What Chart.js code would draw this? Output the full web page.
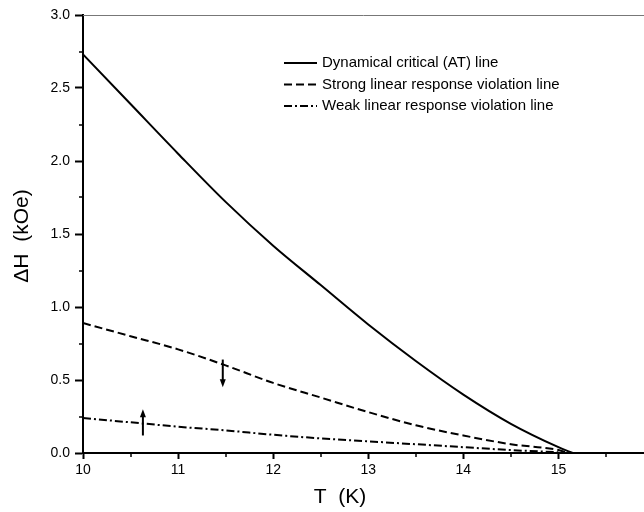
<!DOCTYPE html>
<html>
<head>
<meta charset="utf-8">
<script src="https://cdn.jsdelivr.net/npm/chart.js@4.4.0/dist/chart.umd.min.js"></script>
<style>
    html, body { margin: 0; padding: 0; background: #fff; }
    #wrap { width: 644px; height: 512px; }
</style>
</head>
<body>
<div id="wrap"><canvas id="chart" width="644" height="512"></canvas></div>
<script>
// ==================== DATA ====================
const seriesNames = [
    'Dynamical critical (AT) line',
    'Strong linear response violation line',
    'Weak linear response violation line'
];

// temperature (K) and field width (kOe)
const atT = [10.0, 10.5, 11.0, 11.5, 12.0, 12.5, 13.0, 13.5, 14.0, 14.5, 15.0, 15.15];
const atH = [2.73, 2.39, 2.05, 1.72, 1.42, 1.15, 0.88, 0.63, 0.40, 0.20, 0.04, 0.0];

const strongT = [10.0, 10.5, 11.0, 11.5, 12.0, 12.5, 13.0, 13.5, 14.0, 14.5, 15.0, 15.1];
const strongH = [0.89, 0.80, 0.71, 0.60, 0.48, 0.38, 0.28, 0.19, 0.12, 0.06, 0.02, 0.0];

const weakT = [10.0, 10.5, 11.0, 11.5, 12.0, 12.5, 13.0, 13.5, 14.0, 14.5, 15.0];
const weakH = [0.24, 0.21, 0.18, 0.155, 0.125, 0.10, 0.08, 0.06, 0.04, 0.02, 0.005];

// arrows marking the two violation lines
const arrowT = [11.47, 10.63];
const arrowFrom = [0.64, 0.12];
const arrowTo = [0.45, 0.30];

const xMin = 10, xMax = 15.9;
const yMin = 0, yMax = 3;
const xMinorTicks = [10.5, 11.5, 12.5, 13.5, 14.5, 15.5];
const yMinorTicks = [0.25, 0.75, 1.25, 1.75, 2.25, 2.75];

const xTitle = 'T  (K)';
const yTitle = '\u0394H  (kOe)';

// ==================== HELPERS ====================
const toPoints = (xs, ys) => xs.map((x, i) => ({ x: x, y: ys[i] }));

const lineStyles = [[], [8, 4], [8, 3, 2, 3]];

const FONT = '"Liberation Sans", Arial, sans-serif';
Chart.defaults.font.family = FONT;
Chart.defaults.color = '#000';

// ==================== EXTRAS PLUGIN ====================
const extrasPlugin = {
    id: 'extras',
    afterDraw(chart) {
        const ctx = chart.ctx;
        const area = chart.chartArea;
        const xs = chart.scales.x;
        const ys = chart.scales.y;

        ctx.save();

        // thin top frame
        ctx.strokeStyle = '#777';
        ctx.lineWidth = 1;
        ctx.beginPath();
        ctx.moveTo(area.left, area.top + 0.5);
        ctx.lineTo(area.right, area.top + 0.5);
        ctx.stroke();

        // minor ticks
        ctx.strokeStyle = '#000';
        ctx.lineWidth = 1.5;
        xMinorTicks.forEach(v => {
            const px = Math.round(xs.getPixelForValue(v));
            ctx.beginPath();
            ctx.moveTo(px, area.bottom);
            ctx.lineTo(px, area.bottom + 4);
            ctx.stroke();
        });
        yMinorTicks.forEach(v => {
            const py = Math.round(ys.getPixelForValue(v));
            ctx.beginPath();
            ctx.moveTo(area.left, py);
            ctx.lineTo(area.left - 4, py);
            ctx.stroke();
        });

        // arrows
        ctx.fillStyle = '#000';
        arrowT.forEach((t, i) => {
            const px = xs.getPixelForValue(t);
            const y0 = ys.getPixelForValue(arrowFrom[i]);
            const y1 = ys.getPixelForValue(arrowTo[i]);
            const dir = y1 > y0 ? 1 : -1;
            ctx.lineWidth = 2;
            ctx.beginPath();
            ctx.moveTo(px, y0);
            ctx.lineTo(px, y1 - dir * 6);
            ctx.stroke();
            ctx.beginPath();
            ctx.moveTo(px, y1);
            ctx.lineTo(px - 3, y1 - dir * 8);
            ctx.lineTo(px + 3, y1 - dir * 8);
            ctx.closePath();
            ctx.fill();
        });

        // legend
        ctx.font = '15px ' + FONT;
        ctx.textBaseline = 'middle';
        ctx.textAlign = 'left';
        ctx.lineWidth = 2;
        seriesNames.forEach((name, i) => {
            const y = 63 + i * 21.5;
            ctx.setLineDash(lineStyles[i]);
            ctx.beginPath();
            ctx.moveTo(284, y);
            ctx.lineTo(317, y);
            ctx.stroke();
            ctx.setLineDash([]);
            ctx.fillText(name, 322, y);
        });

        // axis titles
        ctx.font = '21px ' + FONT;
        ctx.textAlign = 'center';
        ctx.fillText(xTitle, 340, 497);
        ctx.translate(22, 236);
        ctx.rotate(-Math.PI / 2);
        ctx.fillText(yTitle, 0, 0);

        ctx.restore();
    }
};

// ==================== BUILD CHART ====================
const makeDataset = (label, xs, ys, dash) => ({
    label: label,
    data: toPoints(xs, ys),
    showLine: true,
    borderColor: '#000',
    backgroundColor: '#000',
    borderWidth: 2,
    borderDash: dash,
    pointRadius: 0,
    cubicInterpolationMode: 'monotone',
    fill: false
});

new Chart(document.getElementById('chart').getContext('2d'), {
    type: 'scatter',
    data: {
        datasets: [
            makeDataset(seriesNames[0], atT, atH, lineStyles[0]),
            makeDataset(seriesNames[1], strongT, strongH, lineStyles[1]),
            makeDataset(seriesNames[2], weakT, weakH, lineStyles[2])
        ]
    },
    options: {
        responsive: false,
        animation: false,
        devicePixelRatio: 1,
        layout: { padding: { top: 15, right: 0, left: 0, bottom: 0 } },
        plugins: {
            legend: { display: false },
            tooltip: { enabled: false }
        },
        scales: {
            x: {
                type: 'linear',
                min: xMin,
                max: xMax,
                afterFit: scale => { scale.height = 59; },
                border: { display: true, color: '#000', width: 2 },
                grid: {
                    drawOnChartArea: false,
                    drawTicks: true,
                    tickLength: 6,
                    tickColor: '#000',
                    tickWidth: 2
                },
                ticks: {
                    stepSize: 1,
                    includeBounds: false,
                    padding: 3,
                    maxRotation: 0,
                    color: '#000',
                    font: { size: 14 },
                    callback: v => String(v)
                }
            },
            y: {
                type: 'linear',
                min: yMin,
                max: yMax,
                afterFit: scale => { scale.width = 83; },
                border: { display: true, color: '#000', width: 2 },
                grid: {
                    drawOnChartArea: false,
                    drawTicks: true,
                    tickLength: 8,
                    tickColor: '#000',
                    tickWidth: 2
                },
                ticks: {
                    stepSize: 0.5,
                    padding: 5,
                    color: '#000',
                    font: { size: 14 },
                    callback: v => v.toFixed(1)
                }
            }
        }
    },
    plugins: [extrasPlugin]
});
</script>
</body>
</html>
